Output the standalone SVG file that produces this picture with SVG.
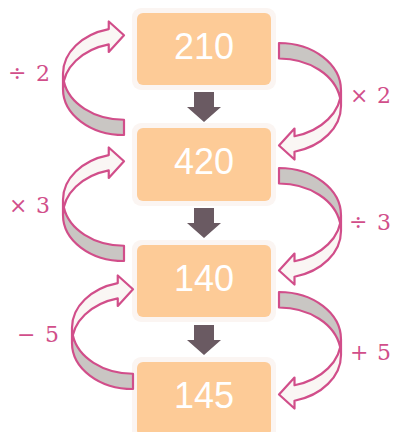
<svg xmlns="http://www.w3.org/2000/svg" width="398" height="432" viewBox="0 0 398 432">
<style>
.halo{fill:#FBF5F2}
.box{fill:#FDCB97}
.num{font-family:"Liberation Sans",Arial,sans-serif;font-size:36px;fill:#FFFFFF;text-anchor:middle}
.op{font-family:"DejaVu Serif","Liberation Serif",serif;font-size:22px;fill:#D14E8A}
.down{fill:#6A5A62}
.front{fill:#FAF6F4}
.back{fill:#C9C6C3}
.edge{fill:none;stroke:#D14E8A;stroke-width:2.2;stroke-linejoin:round}
</style>
<defs>
<g id="cA">
<path class="front" d="M0,46.06 A61,46.06 0 0 0 45.75,90.66 L45.75,83.04 L61,99.75 L45.75,113.54 L45.75,105.91 A61,46.06 0 0 1 0,61.31 Z"/>
<path class="back" d="M61,0 A61,46.06 0 0 0 0.84,53.69 A61,46.06 0 0 1 61,15.25 Z"/>
<path class="edge" d="M0,46.06 A61,46.06 0 0 0 45.75,90.66 L45.75,83.04 L61,99.75 L45.75,113.54 L45.75,105.91 A61,46.06 0 0 1 0,61.31 L0,46.06 A61,46.06 0 0 1 61,0 L61,15.25 A61,46.06 0 0 0 0.84,53.69"/>
</g>
<g id="cB">
<path class="front" d="M0,47.38 A62,47.38 0 0 0 46.5,93.25 L46.5,85.5 L62,102.5 L46.5,116.5 L46.5,108.75 A62,47.38 0 0 1 0,62.88 Z"/>
<path class="back" d="M62,0 A62,47.38 0 0 0 0.84,55.13 A62,47.38 0 0 1 62,15.5 Z"/>
<path class="edge" d="M0,47.38 A62,47.38 0 0 0 46.5,93.25 L46.5,85.5 L62,102.5 L46.5,116.5 L46.5,108.75 A62,47.38 0 0 1 0,62.88 L0,47.38 A62,47.38 0 0 1 62,0 L62,15.5 A62,47.38 0 0 0 0.84,55.13"/>
</g>
</defs>
<g id="node-210">
<rect class="halo" x="132" y="8" width="144" height="82" rx="9"/>
<rect class="box" x="137" y="13" width="134" height="72" rx="6"/>
<text class="num" x="204" y="59">210</text>
</g>
<g id="node-420">
<rect class="halo" x="132" y="123" width="144" height="83" rx="9"/>
<rect class="box" x="137" y="128" width="134" height="73" rx="6"/>
<text class="num" x="204" y="174">420</text>
</g>
<g id="node-140">
<rect class="halo" x="132" y="240" width="144" height="82" rx="9"/>
<rect class="box" x="137" y="245" width="134" height="72" rx="6"/>
<text class="num" x="204" y="291">140</text>
</g>
<g id="node-145">
<rect class="halo" x="132" y="357" width="144" height="84" rx="9"/>
<rect class="box" x="137" y="362" width="134" height="74" rx="6"/>
<text class="num" x="204" y="408">145</text>
</g>
<g id="connectors">
<polygon class="down" points="194,92 214,92 214,107 221,107 204,122 187,107 194,107"/>
<polygon class="down" points="194,208 214,208 214,223 221,223 204,238 187,223 194,223"/>
<polygon class="down" points="194,325 214,325 214,340 221,340 204,355 187,340 194,340"/>
<use href="#cA" transform="translate(63,135) scale(1,-1)"/>
<use href="#cA" transform="translate(63,261) scale(1,-1)"/>
<use href="#cA" transform="translate(72,389) scale(1,-1)"/>
<use href="#cB" transform="translate(341,43) scale(-1,1)"/>
<use href="#cB" transform="translate(341,168) scale(-1,1)"/>
<use href="#cB" transform="translate(341,292) scale(-1,1)"/>
<text class="op" x="8" y="81" textLength="42">÷ 2</text>
<text class="op" x="350" y="103" textLength="41">× 2</text>
<text class="op" x="9" y="213" textLength="41">× 3</text>
<text class="op" x="349" y="230" textLength="42">÷ 3</text>
<text class="op" x="17" y="342" textLength="42">− 5</text>
<text class="op" x="350" y="360" textLength="41">+ 5</text>
</g>
</svg>
